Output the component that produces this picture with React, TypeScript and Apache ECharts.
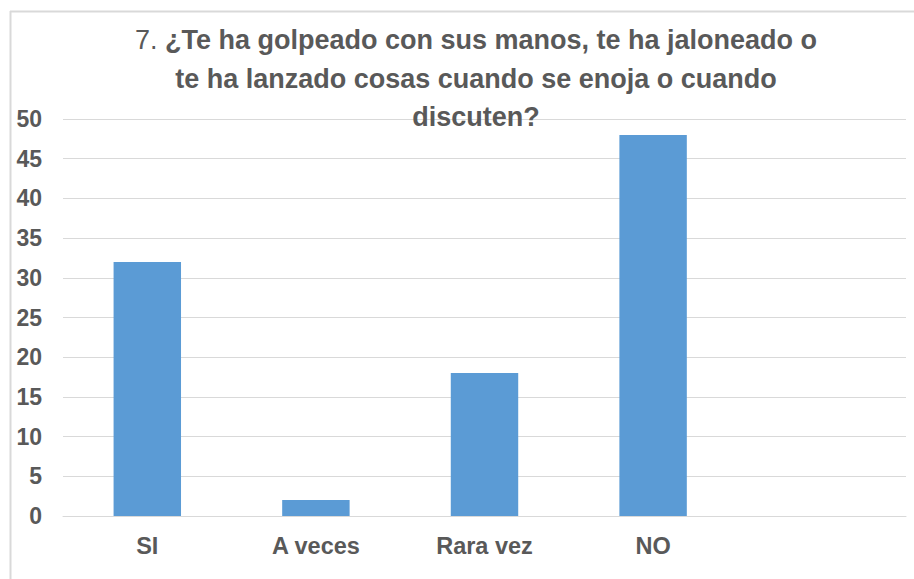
import React, { useEffect, useRef } from "react";
import * as echarts from "echarts";

const categories = ["SI", "A veces", "Rara vez", "NO", ""];
const values = [32, 2, 18, 48, null];
const titleLines = [
  "¿Te ha golpeado con sus manos, te ha jaloneado o",
  "te ha lanzado cosas cuando se enoja o cuando",
  "discuten?",
];
const titlePrefix = "7. ";

export default function App() {
  const ref = useRef<HTMLDivElement>(null);
  useEffect(() => {
    const chart = echarts.init(ref.current!, undefined, { renderer: "svg" });
    const font = "'Liberation Sans', Arial, sans-serif";
    chart.setOption({
      animation: false,
      backgroundColor: "#ffffff",
      title: {
        text:
          "{r|" + titlePrefix + "}{b|" + titleLines[0] + "}\n{b|" + titleLines[1] + "}\n{b|" + titleLines[2] + "}",
        left: 471,
        textAlign: "center",
        top: 16,
        textStyle: {
          rich: {
            r: { fontFamily: font, fontSize: 27, fontWeight: "normal", color: "#595959", lineHeight: 38.5 },
            b: { fontFamily: font, fontSize: 27, fontWeight: "bold", color: "#595959", lineHeight: 38.5 },
          },
        },
      },
      graphic: [
        { type: "line", shape: { x1: 10.5, y1: 11, x2: 10.5, y2: 579 }, style: { stroke: "#d9d9d9", lineWidth: 2 } },
        { type: "line", shape: { x1: 10, y1: 11.5, x2: 914, y2: 11.5 }, style: { stroke: "#d9d9d9", lineWidth: 2 } },
      ],
      grid: { left: 63, right: 8, top: 119, bottom: 63, containLabel: false },
      xAxis: {
        type: "category",
        data: categories,
        axisTick: { show: false },
        axisLine: { lineStyle: { color: "#d9d9d9", width: 1 } },
        axisLabel: { color: "#595959", fontFamily: font, fontSize: 23.5, fontWeight: "bold", margin: 18 },
      },
      yAxis: {
        type: "value",
        min: 0,
        max: 50,
        interval: 5,
        axisLine: { show: false },
        axisTick: { show: false },
        splitLine: { lineStyle: { color: "#d9d9d9", width: 1 } },
        axisLabel: { color: "#595959", fontFamily: font, fontSize: 23, fontWeight: "bold", margin: 21 },
      },
      series: [
        {
          type: "bar",
          data: values,
          barWidth: "40%",
          itemStyle: { color: "#5b9bd5" },
        },
      ],
    });
    return () => chart.dispose();
  }, []);
  return <div ref={ref} style={{ position: "absolute", left: 0, top: 0, width: 914, height: 579 }} />;
}
